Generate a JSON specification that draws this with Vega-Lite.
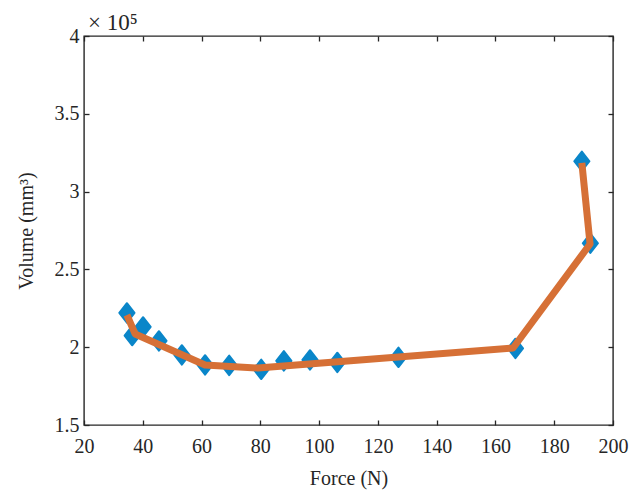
{
  "$schema": "https://vega.github.io/schema/vega-lite/v6.json",
  "width": 529,
  "height": 389,
  "autosize": "none",
  "padding": {"left": 84, "top": 36, "right": 26, "bottom": 72},
  "background": "white",
  "title": {
    "text": "× 10⁵",
    "anchor": "start",
    "frame": "group",
    "font": "Liberation Serif",
    "fontSize": 23,
    "fontWeight": "normal",
    "color": "#262626",
    "baseline": "alphabetic",
    "offset": -27,
    "dx": 4
  },
  "config": {
    "view": {"stroke": "#262626", "strokeWidth": 1.4},
    "axis": {
      "labelFont": "Liberation Serif",
      "titleFont": "Liberation Serif",
      "labelFontSize": 20,
      "titleFontSize": 20,
      "labelColor": "#262626",
      "titleColor": "#262626",
      "titleFontWeight": "normal",
      "domainColor": "#262626",
      "tickColor": "#262626",
      "tickSize": -5,
      "tickWidth": 1.3,
      "labelFlush": false,
      "labelOverlap": false,
      "grid": false
    }
  },
  "datasets": {
    "pts": [
      {"force": 34.6, "volume": 222000},
      {"force": 36.4, "volume": 207500},
      {"force": 40.1, "volume": 213000},
      {"force": 45.5, "volume": 204000},
      {"force": 53.3, "volume": 195000},
      {"force": 61.2, "volume": 188600},
      {"force": 69.4, "volume": 188300},
      {"force": 80.3, "volume": 185800},
      {"force": 88.0, "volume": 191200},
      {"force": 96.9, "volume": 191800},
      {"force": 106.2, "volume": 190200},
      {"force": 127.0, "volume": 193500},
      {"force": 166.8, "volume": 199200},
      {"force": 189.4, "volume": 319500},
      {"force": 192.3, "volume": 266800}
    ],
    "fit": [
      {"i": 1, "force": 34.6, "volume": 220700},
      {"i": 2, "force": 37.4, "volume": 208500},
      {"i": 3, "force": 61.2, "volume": 188600},
      {"i": 4, "force": 79.2, "volume": 186600},
      {"i": 5, "force": 166.0, "volume": 199500},
      {"i": 6, "force": 192.2, "volume": 266300},
      {"i": 7, "force": 189.4, "volume": 318400}
    ]
  },
  "layer": [
    {
      "data": {"name": "pts"},
      "mark": {"type": "point", "shape": "M-0.78,0L0,-1L0.78,0L0,1Z", "filled": true, "size": 380, "color": "#0a86c9", "stroke": "#0a86c9", "strokeWidth": 2, "strokeJoin": "round", "opacity": 1},
      "encoding": {
        "x": {"field": "force", "type": "quantitative", "scale": {"domain": [20, 200], "nice": false, "zero": false},
          "axis": {"values": [20, 40, 60, 80, 100, 120, 140, 160, 180, 200], "title": "Force (N)", "labelPadding": 16, "titlePadding": 12, "domain": false}},
        "y": {"field": "volume", "type": "quantitative", "scale": {"domain": [150000, 400000], "nice": false, "zero": false},
          "axis": {"values": [150000, 200000, 250000, 300000, 350000, 400000], "labelExpr": "'' + datum.value / 100000", "title": "Volume (mm³)", "labelPadding": 10, "titlePadding": 18, "domain": false}}
      }
    },
    {
      "data": {"name": "fit"},
      "mark": {"type": "line", "color": "#d67036", "strokeWidth": 7, "strokeJoin": "round", "strokeCap": "butt"},
      "encoding": {
        "x": {"field": "force", "type": "quantitative",
          "axis": {"orient": "top", "values": [20, 40, 60, 80, 100, 120, 140, 160, 180, 200], "labels": false, "title": null, "domain": false}},
        "y": {"field": "volume", "type": "quantitative",
          "axis": {"orient": "right", "values": [150000, 200000, 250000, 300000, 350000, 400000], "labels": false, "title": null, "domain": false}},
        "order": {"field": "i", "type": "quantitative"}
      }
    }
  ],
  "resolve": {"axis": {"x": "independent", "y": "independent"}}
}
